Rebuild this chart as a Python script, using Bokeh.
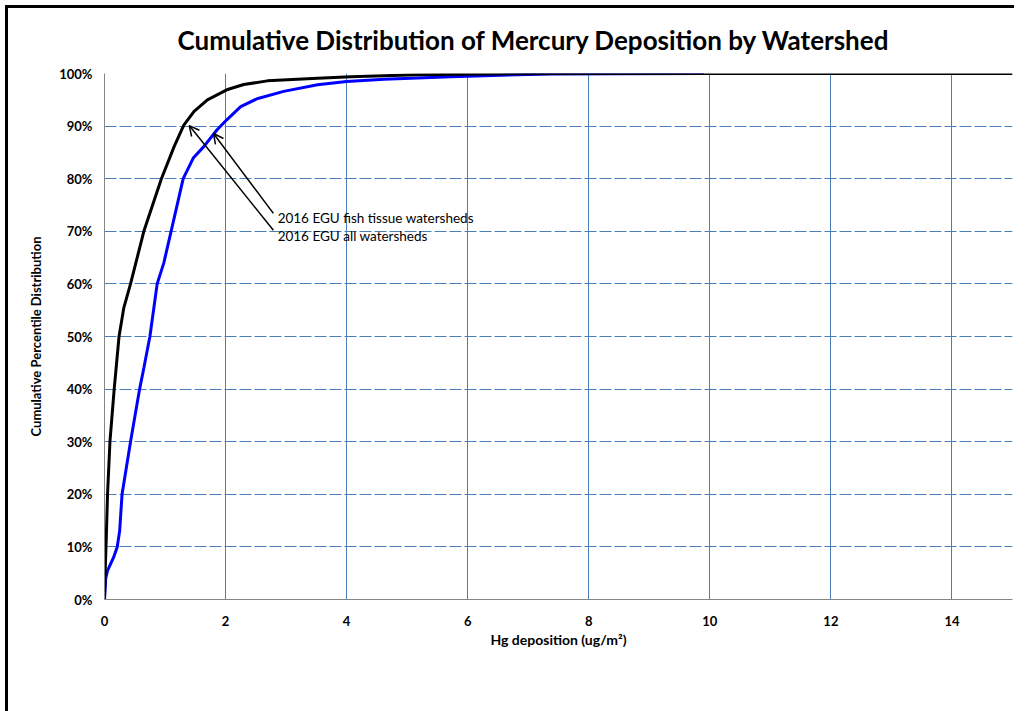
from bokeh.plotting import figure
from bokeh.models import (Range1d, FixedTicker, PrintfTickFormatter, Arrow, OpenHead,
                          Label, Legend, LegendItem)
from bokeh.embed import file_html
from bokeh.resources import INLINE

title_text = "Cumulative Distribution of Mercury Deposition by Watershed"
x_label = "Hg deposition (ug/m\u00b2)"
y_label = "Cumulative Percentile Distribution"
x_ticks = [0, 2, 4, 6, 8, 10, 12, 14]
y_ticks = [0, 10, 20, 30, 40, 50, 60, 70, 80, 90, 100]

series_names = ["2016 HUCs with fish data EGU Hg dep", "ALL HUCs 2016 EGU Dep"]
annotation_texts = ["2016 EGU fish tissue watersheds", "2016 EGU all watersheds"]

# Hg deposition (ug/m2) at each cumulative percentile
fish_x = [0, 0.02, 0.05, 0.15, 0.21, 0.25, 0.29, 0.43, 0.58, 0.65, 0.75, 0.87, 0.98, 1.10,
          1.30, 1.47, 1.64, 1.86, 2.02, 2.25, 2.52, 2.96, 3.52, 4.0, 4.62, 5.72, 6.82,
          7.37, 8.5, 9.9]
fish_pct = [0, 4, 5.5, 8, 10, 13, 20, 30, 40, 44, 50, 60, 64, 70,
            80, 84, 86.1, 89.3, 91.2, 93.7, 95.2, 96.6, 97.85, 98.5, 98.9, 99.4, 99.75,
            99.9, 99.97, 100]

all_x = [0, 0.01, 0.03, 0.05, 0.09, 0.16, 0.24, 0.32, 0.43, 0.65, 0.94, 1.15, 1.31, 1.48,
         1.70, 2.02, 2.30, 2.69, 3.52, 4.07, 5.17, 6.27, 7.5, 15.0]
all_pct = [0, 5, 12, 20, 30, 40, 50, 55.5, 60, 70, 80, 86.1, 90.2, 92.8,
           95.0, 96.9, 97.9, 98.6, 99.1, 99.4, 99.75, 99.9, 100, 100]

# annotation arrows: (text end x, pct) -> (head x, pct)
arrow_fish = [2.79, 73.4, 1.80, 88.6]
arrow_all = [2.79, 70.2, 1.40, 90.1]
label_pos = [[2.86, 72.6], [2.86, 69.2]]

FONT = "Lato"
GRID = "#4A7EBB"
AXIS = "#868686"

p = figure(frame_width=908, frame_height=526, output_backend="svg", toolbar_location=None,
           x_range=Range1d(0, 15), y_range=Range1d(0, 100),
           min_border_left=104, min_border_right=2, min_border_top=73, min_border_bottom=10)
p.outline_line_color = None
p.background_fill_color = "white"
p.border_fill_alpha = 0
p.styles = {"box-shadow": "inset 5px 5px 0 0 white, inset 8px 8px 0 0 black",
            "background-color": "white"}

p.title.text = title_text
p.title.align = "left"
p.title.offset = 73
p.title.text_font = FONT
p.title.text_font_size = "26px"
p.title.text_font_style = "bold"
p.title.text_color = "black"
p.title.standoff = 35

# axes
p.xaxis.ticker = FixedTicker(ticks=x_ticks)
p.yaxis.ticker = FixedTicker(ticks=y_ticks)
p.yaxis.formatter = PrintfTickFormatter(format="%d%%")
for ax in (p.xaxis[0], p.yaxis[0]):
    ax.axis_line_color = AXIS
    ax.axis_line_width = 1
    ax.major_tick_in = 0
    ax.major_tick_out = 0
    ax.minor_tick_in = 0
    ax.minor_tick_out = 0
    ax.major_label_text_font = FONT
    ax.major_label_text_font_size = "13px"
    ax.major_label_text_font_style = "bold"
    ax.major_label_text_color = "black"
    ax.axis_label_text_font = FONT
    ax.axis_label_text_font_style = "bold"
    ax.axis_label_text_color = "black"
p.xaxis.axis_label = x_label
p.xaxis.axis_label_text_font_size = "14px"
p.xaxis.major_label_standoff = 16
p.xaxis.axis_label_standoff = 2
p.yaxis.axis_label = y_label
p.yaxis.axis_label_text_font_size = "13px"
p.yaxis.major_label_standoff = 12
p.yaxis.axis_label_standoff = 12

# grid
p.xgrid.grid_line_color = GRID
p.xgrid.grid_line_width = 1
p.ygrid.grid_line_color = GRID
p.ygrid.grid_line_width = 1
p.ygrid.grid_line_dash = "12 3"

r_fish = p.line(fish_x, fish_pct, line_color="#0000FF", line_width=3)
r_all = p.line(all_x, all_pct, line_color="black", line_width=3)

# annotations
for a in (arrow_fish, arrow_all):
    p.add_layout(Arrow(x_start=a[0], y_start=a[1], x_end=a[2], y_end=a[3],
                       line_color="black", line_width=1.5,
                       end=OpenHead(size=10, line_color="black", line_width=1.5)))
for t, (lx, ly) in zip(annotation_texts, label_pos):
    p.add_layout(Label(x=lx, y=ly, text=t, text_font=FONT, text_font_size="13.5px",
                       text_baseline="middle", text_color="black"))

# legend below the axis
leg = Legend(items=[LegendItem(label=series_names[0], renderers=[r_fish]),
                    LegendItem(label=series_names[1], renderers=[r_all])],
             location="top_center", orientation="horizontal")
leg.glyph_width = 31
leg.glyph_height = 15
leg.label_height = 15
leg.label_width = 199
leg.label_standoff = 1
leg.padding = 0
leg.margin = 0
leg.spacing = 124
leg.border_line_color = None
leg.background_fill_alpha = 0
leg.label_text_font = FONT
leg.label_text_font_size = "12px"
leg.label_text_font_style = "bold"
leg.label_text_color = "black"
p.add_layout(leg, "below")

open("out.html", "w").write(file_html(p, INLINE))
